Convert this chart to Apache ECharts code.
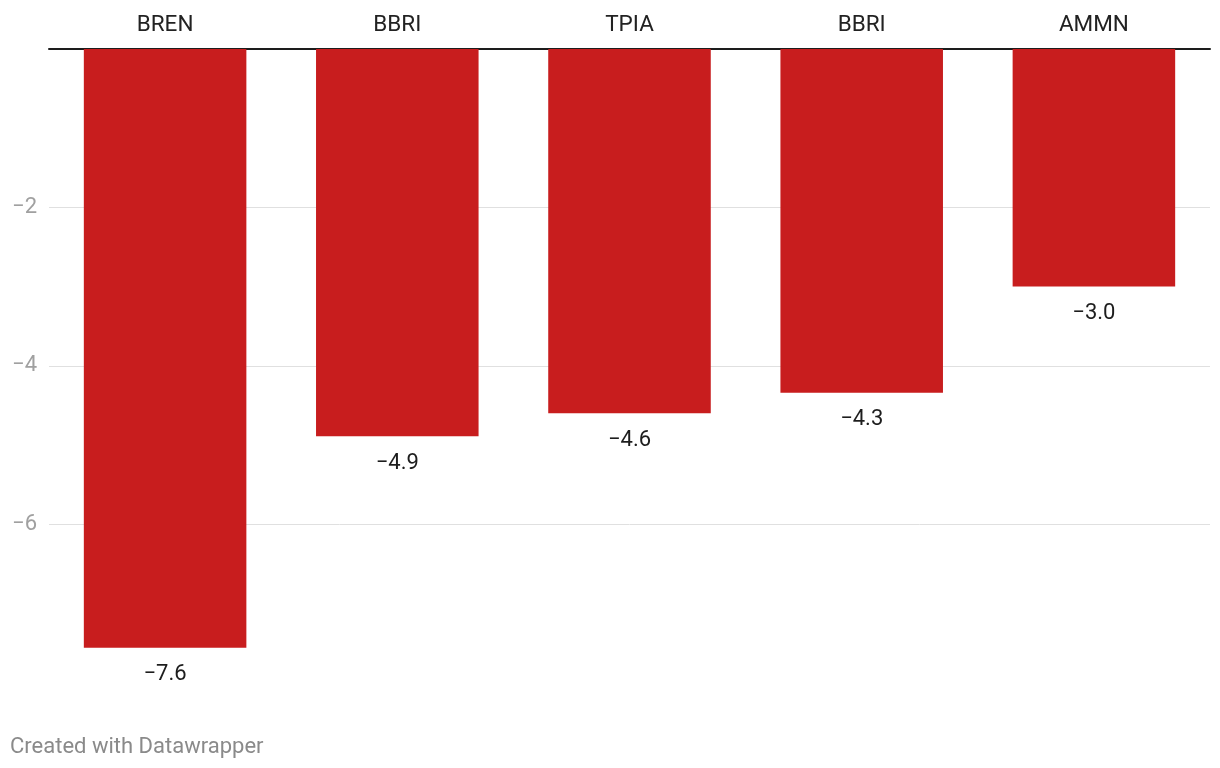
<!DOCTYPE html>
<html>
<head>
<meta charset="utf-8">
<script src="https://cdn.jsdelivr.net/npm/echarts@6/dist/echarts.min.js"></script>
<style>
html,body{margin:0;padding:0;background:#fff;}
#chart{width:1220px;height:768px;}
</style>
</head>
<body>
<div id="chart"></div>
<script>
const categories = ['BREN', 'BBRI', 'TPIA', 'BBRI', 'AMMN'];
const values = [-7.56, -4.89, -4.6, -4.34, -3.0];
const yTicks = [-8, -6, -4, -2, 0];

const minus = s => String(s).replace('-', '\u2212');

const chart = echarts.init(document.getElementById('chart'));
chart.setOption({
  animation: false,
  textStyle: { fontFamily: 'Roboto' },
  grid: { left: 49, right: 10, top: 49, bottom: 85.4, containLabel: false },
  xAxis: {
    type: 'category',
    position: 'top',
    data: categories,
    axisLine: { show: true, lineStyle: { color: '#1d1d1d', width: 2 } },
    axisTick: { show: false },
    axisLabel: { color: '#222', fontSize: 22.5, margin: 12, fontFamily: 'Roboto' }
  },
  yAxis: {
    type: 'value',
    min: yTicks[0],
    max: yTicks[yTicks.length - 1],
    interval: 2,
    axisLine: { show: false },
    axisTick: { show: false },
    axisLabel: {
      color: '#a0a0a0', fontSize: 22, margin: 12, fontFamily: 'Roboto',
      showMinLabel: false, showMaxLabel: false,
      formatter: v => minus(v)
    },
    splitLine: { show: true, showMinLine: false, showMaxLine: false, lineStyle: { color: '#e0e0e0', width: 1 } }
  },
  series: [{
    type: 'bar',
    data: values,
    barCategoryGap: '30%',
    itemStyle: { color: '#c81d1e' },
    label: {
      show: true,
      position: 'bottom',
      distance: 16,
      color: '#1d1d1d',
      fontSize: 22,
      fontFamily: 'Roboto',
      formatter: p => minus(p.value.toFixed(1))
    }
  }],
  graphic: [{
    type: 'text',
    left: 10,
    top: 736,
    style: { text: 'Created with Datawrapper', fill: '#8a8a8a', fontSize: 22, fontFamily: 'Roboto' }
  }]
});
</script>
</body>
</html>
